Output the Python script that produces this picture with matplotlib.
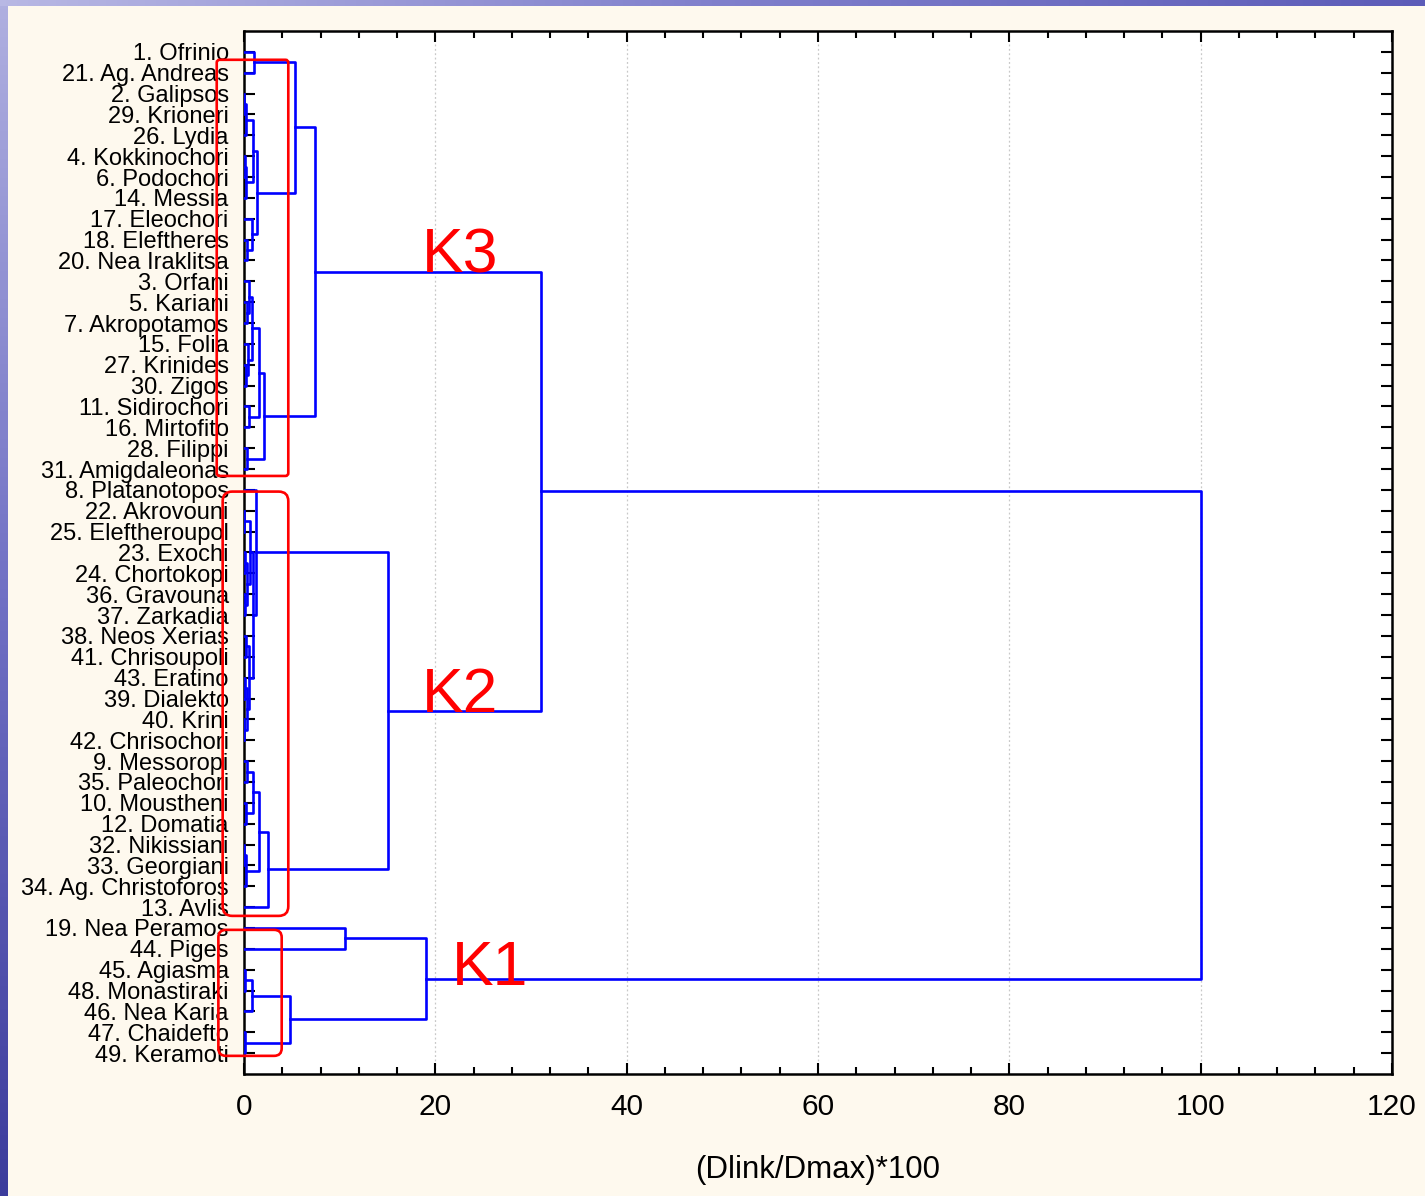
import numpy as np
import matplotlib
matplotlib.use("Agg")
import matplotlib.pyplot as plt
from matplotlib.patches import FancyBboxPatch
from matplotlib.colors import LinearSegmentedColormap

# leaf labels, top to bottom
labels = ["1. Ofrinio", "21. Ag. Andreas", "2. Galipsos", "29. Krioneri", "26. Lydia",
          "4. Kokkinochori", "6. Podochori", "14. Messia", "17. Eleochori", "18. Eleftheres",
          "20. Nea Iraklitsa", "3. Orfani", "5. Kariani", "7. Akropotamos", "15. Folia",
          "27. Krinides", "30. Zigos", "11. Sidirochori", "16. Mirtofito", "28. Filippi",
          "31. Amigdaleonas", "8. Platanotopos", "22. Akrovouni", "25. Eleftheroupol",
          "23. Exochi", "24. Chortokopi", "36. Gravouna", "37. Zarkadia", "38. Neos Xerias",
          "41. Chrisoupoli", "43. Eratino", "39. Dialekto", "40. Krini", "42. Chrisochori",
          "9. Messoropi", "35. Paleochori", "10. Moustheni", "12. Domatia", "32. Nikissiani",
          "33. Georgiani", "34. Ag. Christoforos", "13. Avlis", "19. Nea Peramos", "44. Piges",
          "45. Agiasma", "48. Monastiraki", "46. Nea Karia", "47. Chaidefto", "49. Keramoti"]

# tree nodes: (left, right, linkage distance); ints are leaf positions
k3_p = (((2, 3, 0.05), 4, 0.2), ((5, 6, 0.1), 7, 0.2), 0.97)
k3_q = (8, (9, 10, 0.3), 0.85)
k3_upper = ((0, 1, 1.08), (k3_p, k3_q, 1.4), 5.3)
k3_a = ((11, (12, 13, 0.3), 0.5), (14, (15, 16, 0.2), 0.45), 0.87)
k3_lower = ((k3_a, (17, 18, 0.55), 1.6), (19, 20, 0.3), 2.1)

k2_x1 = ((22, 23, 0.05), ((24, 25, 0.15), (26, 27, 0.1), 0.3), 0.6)
k2_x2 = ((28, 29, 0.2), ((30, 31, 0.1), (32, 33, 0.02), 0.35), 0.5)
k2_upper = (21, (k2_x1, k2_x2, 0.97), 1.25)
k2_lower = ((((34, 35, 0.35), (36, 37, 0.2), 0.95), ((38, 39, 0.02), 40, 0.2), 1.6), 41, 2.5)

k1 = ((42, 43, 10.55), (((44, 45, 0.1), 46, 0.8), (47, 48, 0.1), 4.8), 19.07)

k3 = (k3_upper, k3_lower, 7.4)
k2 = (k2_upper, k2_lower, 15.05)
root = ((k3, k2, 31.0), k1, 100.0)

# cluster boxes: name, x0, x1, y0, y1, corner radius, label x, label baseline y
boxes = [("K3", -2.85, 4.63, 0.38, 20.33, 0.3, 18.6, 10.6),
         ("K2", -2.23, 4.63, 21.08, 41.42, 1.0, 18.6, 31.64),
         ("K1", -2.68, 3.94, 42.09, 48.13, 0.8, 21.7, 44.73)]

W, H = 1425, 1196
fig = plt.figure(figsize=(W / 100, H / 100), dpi=100, facecolor="#fef9ee")

# blue slide frame on the left and top
cm_l = LinearSegmentedColormap.from_list("l", ["#b0b0e0", "#7070c4", "#3c3c9c"])
axl = fig.add_axes([0, 0, 8 / W, 1])
axl.imshow(np.linspace(0, 1, 256)[:, None], aspect="auto", cmap=cm_l)
axl.axis("off")
cm_t = LinearSegmentedColormap.from_list("t", ["#b8b8e4", "#8080cc", "#5c5cb8"])
axt = fig.add_axes([0, 1 - 6 / H, 1, 6 / H])
axt.imshow(np.linspace(0, 1, 256)[None, :], aspect="auto", cmap=cm_t)
axt.axis("off")

ax = fig.add_axes([244 / W, 1 - 1074 / H, (1392 - 244) / W, (1074 - 31) / H])
ax.set_facecolor("white")


def draw(node):
    if isinstance(node, int):
        return node, 0.0
    a, b, h = node
    ya, ha = draw(a)
    yb, hb = draw(b)
    ax.plot([ha, h, h, hb], [ya, ya, yb, yb], color="#0000ff", lw=1.9, zorder=3)
    return (ya + yb) / 2, h


draw(root)

asp = (1148 / 120) / (1043 / 50)
for name, x0, x1, y0, y1, r, lx, ly in boxes:
    ax.add_patch(FancyBboxPatch((x0, y0), x1 - x0, y1 - y0,
                                boxstyle=f"round,pad=0,rounding_size={r}",
                                mutation_aspect=asp, fill=False, ec="#ff0000",
                                lw=1.9, clip_on=False, zorder=5))
    ax.text(lx, ly, name, color="#ff0000", fontsize=45, family="Liberation Sans",
            ha="left", va="baseline", zorder=6)

ax.set_xlim(0, 120)
ax.set_ylim(49, -1)
ax.set_xticks(np.arange(0, 121, 20))
ax.set_xticks(np.arange(0, 121, 4), minor=True)
ax.set_yticks(np.arange(len(labels)))
ax.set_yticklabels(labels, family="Liberation Sans", fontsize=17)
ax.set_xticklabels([str(v) for v in range(0, 121, 20)],
                   family=["Liberation Sans Narrow", "Liberation Sans"], fontsize=21.5)
ax.tick_params(axis="x", which="major", direction="in", length=8, width=1.5,
               top=True, pad=14)
ax.tick_params(axis="x", which="minor", direction="in", length=5, width=1.5, top=True)
ax.tick_params(axis="y", direction="in", length=8, width=1.5, right=True, pad=11)
ax.grid(axis="x", which="major", color="#c8c8c8", ls=(0, (1.5, 2)), lw=0.9)
for s in ax.spines.values():
    s.set_linewidth(1.8)
ax.set_xlabel("(Dlink/Dmax)*100", family="Liberation Sans", fontsize=22.5, labelpad=24)

fig.savefig("out.png", dpi=100, facecolor=fig.get_facecolor())
